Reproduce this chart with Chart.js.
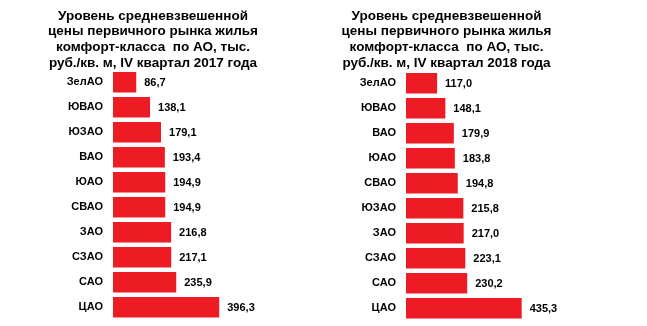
<!DOCTYPE html>
<html>
<head>
<meta charset="utf-8">
<script src="https://cdn.jsdelivr.net/npm/chart.js@4.4.1/dist/chart.umd.min.js"></script>
<style>
    body { margin: 0; background: #ffffff; }
    .box { position: absolute; top: 0; height: 326px; }
</style>
</head>
<body>
<div class="box" style="left:0; width:306px;"><canvas id="chart2017"></canvas></div>
<div class="box" style="left:323px; width:247px;"><canvas id="chart2018"></canvas></div>
<script>
const districts2017 = ['ЗелАО', 'ЮВАО', 'ЮЗАО', 'ВАО', 'ЮАО', 'СВАО', 'ЗАО', 'СЗАО', 'САО', 'ЦАО'];
const prices2017 = [86.7, 138.1, 179.1, 193.4, 194.9, 194.9, 216.8, 217.1, 235.9, 396.3];

const districts2018 = ['ЗелАО', 'ЮВАО', 'ВАО', 'ЮАО', 'СВАО', 'ЮЗАО', 'ЗАО', 'СЗАО', 'САО', 'ЦАО'];
const prices2018 = [117.0, 148.1, 179.9, 183.8, 194.8, 215.8, 217.0, 223.1, 230.2, 435.3];

const title2017 = [
    'Уровень средневзвешенной',
    'цены первичного рынка жилья',
    'комфорт-класса  по АО, тыс.',
    'руб./кв. м, IV квартал 2017 года'
];
const title2018 = [
    'Уровень средневзвешенной',
    'цены первичного рынка жилья',
    'комфорт-класса  по АО, тыс.',
    'руб./кв. м, IV квартал 2018 года'
];

const FONT = "'Liberation Sans', Arial, sans-serif";

// value labels to the right of each bar
const valueLabels = {
    id: 'valueLabels',
    afterDatasetsDraw(chart) {
        const ctx = chart.ctx;
        const meta = chart.getDatasetMeta(0);
        const data = chart.data.datasets[0].data;
        ctx.save();
        ctx.font = 'bold 11px ' + FONT;
        ctx.fillStyle = '#000000';
        ctx.textAlign = 'left';
        ctx.textBaseline = 'middle';
        meta.data.forEach((bar, i) => {
            ctx.fillText(data[i].toFixed(1).replace('.', ','), bar.x + 8, bar.y + 1);
        });
        ctx.restore();
    }
};

function makeChart(id, labels, values, title, axisWidth, xMax, titleBottom, bottomPad) {
    const ctx = document.getElementById(id);
    return new Chart(ctx, {
        type: 'bar',
        data: {
            labels: labels,
            datasets: [{
                data: values,
                backgroundColor: '#ED1C24',
                borderWidth: 0,
                barPercentage: 0.82,
                categoryPercentage: 1.0
            }]
        },
        options: {
            indexAxis: 'y',
            responsive: true,
            maintainAspectRatio: false,
            animation: false,
            layout: {
                padding: { left: 0, right: 0, top: 0, bottom: bottomPad }
            },
            plugins: {
                legend: { display: false },
                tooltip: { enabled: false },
                title: {
                    display: true,
                    text: title,
                    color: '#000000',
                    font: { family: FONT, size: 13.5, weight: 'bold', lineHeight: '15.8px' },
                    padding: { top: 8, bottom: titleBottom }
                }
            },
            scales: {
                x: {
                    display: false,
                    min: 0,
                    max: xMax
                },
                y: {
                    grid: { display: false, drawTicks: false },
                    border: { display: false },
                    ticks: {
                        color: '#000000',
                        padding: 10,
                        font: { family: FONT, size: 11, weight: 'bold' }
                    },
                    afterFit(scale) {
                        scale.width = axisWidth;
                        scale.paddingTop = 0;
                        scale.paddingBottom = 0;
                    }
                }
            }
        },
        plugins: [valueLabels]
    });
}

makeChart('chart2017', districts2017, prices2017, title2017, 113, 720, -1.4, 6.2);
makeChart('chart2018', districts2018, prices2018, title2018, 83, 617, -0.4, 5.2);
</script>
</body>
</html>
